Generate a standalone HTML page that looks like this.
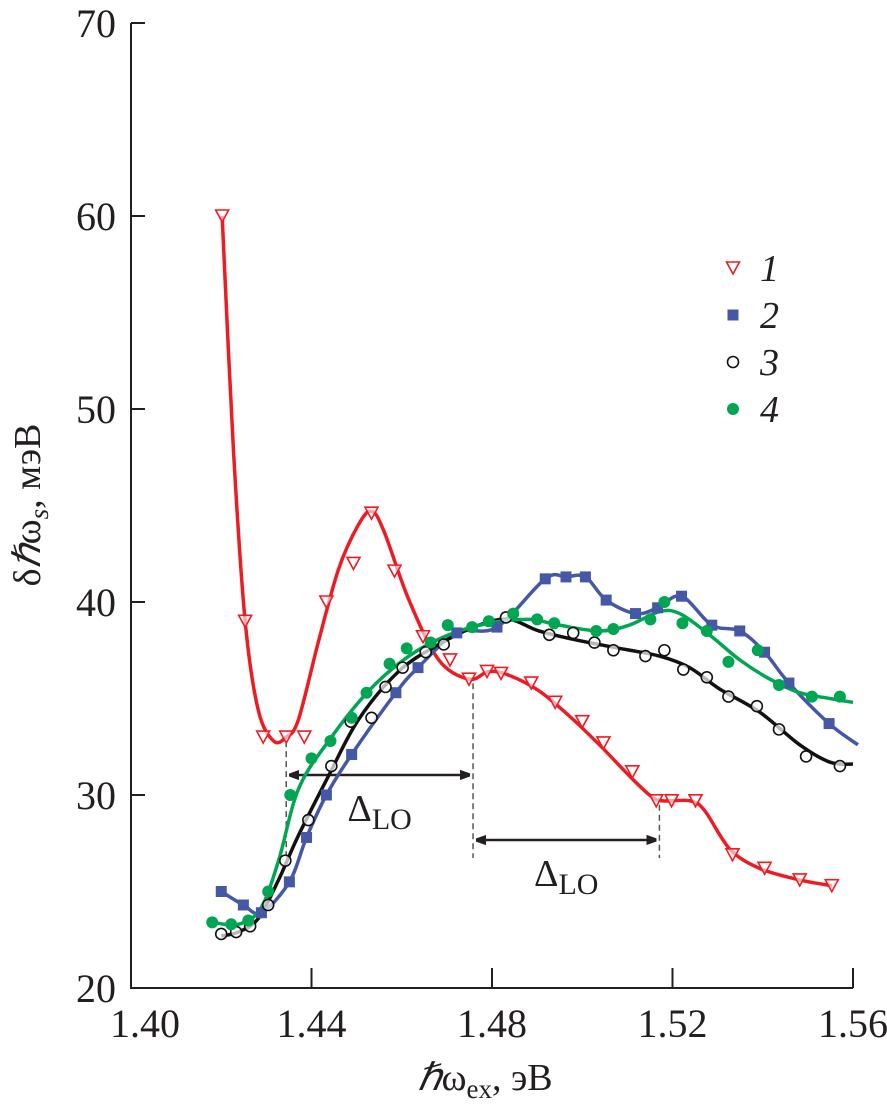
<!DOCTYPE html>
<html><head><meta charset="utf-8"><style>
html,body{margin:0;padding:0;background:#fff;width:887px;height:1107px;overflow:hidden}
svg text{font-family:"Liberation Serif",serif;fill:#231f20}
</style></head><body>
<svg id="c" width="887" height="1107" xmlns="http://www.w3.org/2000/svg">
<defs><marker id="ah" markerWidth="10" markerHeight="10" refX="9" refY="5" orient="auto-start-reverse" markerUnits="userSpaceOnUse"><path d="M0,0 L14,5 L0,10 L4,5 Z" fill="#231f20" transform="scale(1.3) translate(-3,-1.2)"/></marker></defs>
</svg>
<script>
const xTicks=[1.40,1.44,1.48,1.52,1.56];
const xTickLabels=["1.40","1.44","1.48","1.52","1.56"];
const yTicks=[20,30,40,50,60,70];
const yTickLabels=["20","30","40","50","60","70"];
const s1x=[1.4202,1.4253,1.4293,1.4344,1.4384,1.4433,1.4493,1.4533,1.4584,1.4647,1.4707,1.4749,1.4789,1.4820,1.4887,1.4940,1.5000,1.5047,1.5111,1.5164,1.5198,1.5251,1.5333,1.5404,1.5482,1.5553];
const s1y=[60,39.0,33.0,33.0,33.0,40.0,42.0,44.6,41.6,38.2,37.0,36.0,36.4,36.3,35.8,34.8,33.8,32.7,31.2,29.7,29.7,29.7,26.9,26.2,25.6,25.3];
const c1x=[1.4202,1.4227,1.4253,1.4282,1.4316,1.4344,1.4371,1.4416,1.4460,1.4504,1.4533,1.4560,1.4616,1.4682,1.4749,1.4793,1.4838,1.4904,1.4971,1.5038,1.5104,1.5149,1.5176,1.5238,1.5271,1.5327,1.5393,1.5482,1.5553];
const c1y=[60.0,47.9,39.0,34.4,32.8,33.0,33.9,38.0,41.7,44.0,44.7,43.7,40.1,37.0,36.0,36.4,36.2,35.4,34.1,32.6,31.0,30.0,29.7,29.7,29.2,27.2,26.2,25.6,25.3];
const s2x=[1.4200,1.4249,1.4289,1.4351,1.4389,1.4433,1.4489,1.4587,1.4636,1.4722,1.4811,1.4918,1.4964,1.5007,1.5053,1.5118,1.5167,1.5220,1.5287,1.5349,1.5404,1.5458,1.5547];
const s2y=[25.0,24.3,23.9,25.5,27.8,30.0,32.1,35.3,36.6,38.4,38.7,41.2,41.3,41.3,40.1,39.4,39.7,40.3,38.8,38.5,37.4,35.8,33.7];
const c2x=s2x.concat([1.5611]);
const c2y=s2y.concat([32.6]);
const s3x=[1.4200,1.4233,1.4264,1.4304,1.4342,1.4393,1.4444,1.4487,1.4533,1.4564,1.4602,1.4653,1.4693,1.4831,1.4927,1.4980,1.5027,1.5069,1.5140,1.5182,1.5224,1.5276,1.5324,1.5387,1.5436,1.5496,1.5571];
const s3y=[22.8,22.9,23.2,24.3,26.6,28.7,31.5,33.8,34.0,35.6,36.6,37.4,37.8,39.2,38.3,38.4,37.9,37.5,37.2,37.5,36.5,36.1,35.1,34.6,33.4,32.0,31.5];
const c3x=[1.4200,1.4238,1.4282,1.4327,1.4371,1.4438,1.4504,1.4593,1.4682,1.4771,1.4838,1.4904,1.4993,1.5082,1.5171,1.5238,1.5304,1.5393,1.5482,1.5549,1.5600];
const c3y=[22.7,22.9,23.6,25.6,27.9,31.0,33.9,36.4,37.8,38.8,39.1,38.5,38.0,37.6,37.2,36.6,35.5,34.3,32.6,31.7,31.6];
const s4x=[1.4180,1.4222,1.4260,1.4304,1.4353,1.4400,1.4442,1.4489,1.4522,1.4573,1.4611,1.4664,1.4702,1.4756,1.4793,1.4847,1.4900,1.4938,1.5031,1.5069,1.5151,1.5182,1.5222,1.5276,1.5324,1.5389,1.5436,1.5509,1.5571];
const s4y=[23.4,23.3,23.5,25.0,30.0,31.9,32.8,34.0,35.3,36.8,37.6,37.9,38.8,38.7,39.0,39.4,39.1,38.9,38.5,38.6,39.1,40.0,38.9,38.5,36.9,37.5,35.7,35.1,35.1];
const c4x=[1.4180,1.4238,1.4287,1.4327,1.4371,1.4438,1.4527,1.4616,1.4704,1.4793,1.4882,1.4949,1.5038,1.5104,1.5171,1.5216,1.5282,1.5349,1.5416,1.5482,1.5549,1.5600];
const c4y=[23.4,23.3,24.1,26.6,30.3,32.8,35.4,37.2,38.3,38.9,39.1,38.8,38.5,38.8,39.5,39.4,38.3,37.0,36.0,35.3,35.0,34.8];
const loMarksX=[1.4344,1.4758,1.5171];
const loMarksY=[33.0,36.0,29.7];

const NS="http://www.w3.org/2000/svg";
const svg=document.getElementById('c');
const X=v=>131+(v-1.40)/0.04*180.5;
const Y=v=>988-(v-20)*19.3;
function mk(t,a,p){const e=document.createElementNS(NS,t);for(const k in a)e.setAttribute(k,a[k]);(p||svg).appendChild(e);return e;}
function path(xs,ys){const P=xs.map((x,i)=>[X(x),Y(ys[i])]);let d="M"+P[0][0]+","+P[0][1];
for(let i=0;i<P.length-1;i++){const p0=P[Math.max(0,i-1)],p1=P[i],p2=P[i+1],p3=P[Math.min(P.length-1,i+2)];
const t=6;d+=` C${p1[0]+(p2[0]-p0[0])/t},${p1[1]+(p2[1]-p0[1])/t} ${p2[0]-(p3[0]-p1[0])/t},${p2[1]-(p3[1]-p1[1])/t} ${p2[0]},${p2[1]}`;}return d;}

// axes
let e=mk('path',{d:`M131,${Y(70)} V988 H${X(1.56)}`,fill:'none',stroke:'#231f20','stroke-width':2});


yTicks.forEach((v,i)=>{
 let t=mk('line',{x1:131,x2:145,y1:Y(v),y2:Y(v),stroke:'#231f20','stroke-width':2});
 
 
 let l=mk('text',{x:116,y:Y(v)+14,'text-anchor':'end','font-size':40});l.textContent=yTickLabels[i];
 
 
});
xTicks.forEach((v,i)=>{
 let t=mk('line',{x1:X(v),x2:X(v),y1:988,y2:968,stroke:'#231f20','stroke-width':2});
 
 
 let l=mk('text',{x:X(v)+(i==0?14:0),y:1037,'text-anchor':'middle','font-size':40});l.textContent=xTickLabels[i];
 
 
});
// axis titles
let xt=mk('text',{x:485,y:1090,'text-anchor':'middle','font-size':38});
xt.innerHTML='<tspan font-style="italic">ℏ</tspan>ω<tspan font-size="27" dy="8">ex</tspan><tspan dy="-8">, эВ</tspan>';


let yt=mk('text',{x:0,y:0,'text-anchor':'middle','font-size':38,transform:'translate(40,505) rotate(-90)'});
yt.innerHTML='δ<tspan font-style="italic">ℏ</tspan>ω<tspan font-size="27" dy="8" font-style="italic">s</tspan><tspan dy="-8">, мэВ</tspan>';



// LO annotations
loMarksX.forEach((v,i)=>{
 let l=mk('line',{x1:X(v),x2:X(v),y1:Y(loMarksY[i])+4,y2:858,stroke:'#555','stroke-width':1.5,'stroke-dasharray':'6,4'});
 
 
});
[[0,1,775],[1,2,840]].forEach(([a,b,yy],i)=>{
 let ar=mk('line',{x1:X(loMarksX[a])+4,x2:X(loMarksX[b])-4,y1:yy,y2:yy,stroke:'#231f20','stroke-width':2.5,'marker-start':'url(#ah)','marker-end':'url(#ah)'});
 
 
 let t=mk('text',{x:(X(loMarksX[a])+X(loMarksX[b]))/2,y:yy+46,'text-anchor':'middle','font-size':38});
 t.innerHTML='Δ<tspan font-size="30" dy="8">LO</tspan>';
 
 
});

// curves
const cols=['#ed1c24','#4458a6','#111','#00a651'];
[[c1x,c1y],[c2x,c2y],[c3x,c3y],[c4x,c4y]].forEach(([xs,ys],i)=>{
 let p=mk('path',{d:path(xs,ys),fill:'none',stroke:cols[i],'stroke-width':3.5,'stroke-linejoin':'round'});
 
 
});
function marker(type,cx,cy,g){
 if(type==0)return mk('path',{d:`M${cx-6.5},${cy-6} L${cx+6.5},${cy-6} L${cx},${cy+6} Z`,fill:'#fff','fill-opacity':0.6,stroke:'#ed1c24','stroke-width':1.6},g);
 if(type==1)return mk('rect',{x:cx-5.5,y:cy-5.5,width:11,height:11,fill:'#4458a6'},g);
 if(type==2)return mk('circle',{cx:cx,cy:cy,r:5.5,fill:'#fff','fill-opacity':0.7,stroke:'#111','stroke-width':1.6},g);
 return mk('circle',{cx:cx,cy:cy,r:6,fill:'#00a651'},g);
}
[[s1x,s1y],[s2x,s2y],[s3x,s3y],[s4x,s4y]].forEach(([xs,ys],i)=>{
 xs.forEach((x,j)=>{
  let m=marker(i,X(x),Y(ys[j]));
  
  
 });
});
// legend
const legLabels=['1','2','3','4'];
legLabels.forEach((t,i)=>{
 const yy=268+i*47;
 let m=marker(i,733,yy);
 
 
 let l=mk('text',{x:760,y:yy+13,'font-size':38,'font-style':'italic'});l.textContent=t;
 
 
});
</script>
</body></html>
